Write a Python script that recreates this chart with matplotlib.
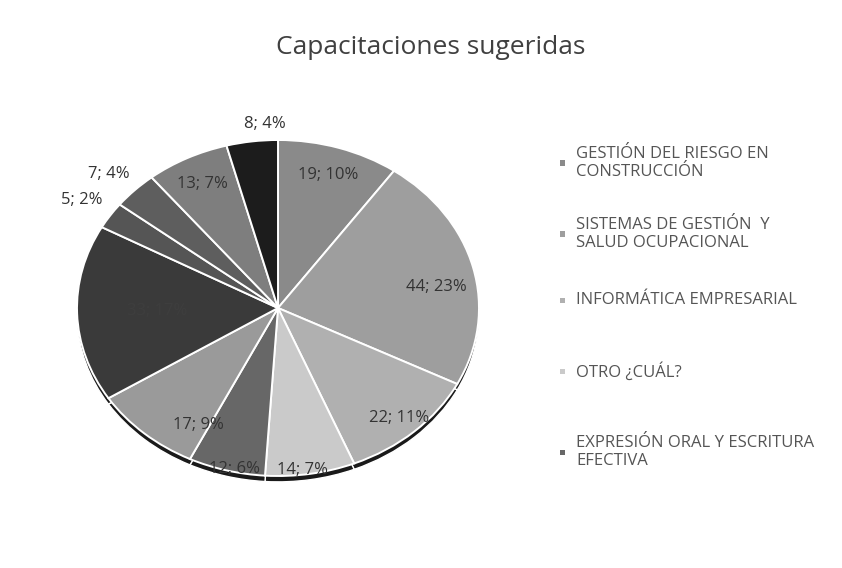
import numpy as np
import matplotlib
matplotlib.use("Agg")
import matplotlib.pyplot as plt
from matplotlib.patches import Rectangle

plt.rcParams['font.family'] = ['Open Sans', 'DejaVu Sans']

# data (clockwise from 12 o'clock)
values = [19, 44, 22, 14, 12, 17, 33, 5, 7, 13, 8]
pct_text = ['10%', '23%', '11%', '7%', '6%', '9%', '17%', '2%', '4%', '7%', '4%']
colors = ['#8a8a8a', '#9e9e9e', '#b0b0b0', '#cacaca', '#676767', '#9a9a9a',
          '#3a3a3a', '#555555', '#5e5e5e', '#7e7e7e', '#1c1c1c']
legend_names = [
    'GESTIÓN DEL RIESGO EN\nCONSTRUCCIÓN',
    'SISTEMAS DE GESTIÓN  Y\nSALUD OCUPACIONAL',
    'INFORMÁTICA EMPRESARIAL',
    'OTRO ¿CUÁL?',
    'EXPRESIÓN ORAL Y ESCRITURA\nEFECTIVA',
]

# label placement (radius as fraction, angle nudge in degrees)
label_r = [0.83, 0.80, 0.89, 0.97, 0.98, 0.80, 0.60, 1.17, 1.16, 0.83, 1.10]
label_shift = [0, 5, 0, 2, -2, -12, 0, 0, -1, 0, 4]

W, H = 842, 568
fig = plt.figure(figsize=(W / 100, H / 100), dpi=100)
fig.patch.set_facecolor('white')

# pie is an ellipse (3d tilt): centre (278, 308), radii 201 x 168 px
cx, cy, rx, ry = 278, 308, 201, 168
ax = fig.add_axes([(cx - rx) / W, (H - cy - ry) / H, 2 * rx / W, 2 * ry / H])

# side of the 3d pie
ax.pie(values, colors=['#1a1a1a'] * len(values), startangle=90, counterclock=False,
       center=(0, -0.035), wedgeprops=dict(edgecolor='white', linewidth=1.0))
ax.pie(values, colors=colors, startangle=90, counterclock=False,
       wedgeprops=dict(edgecolor='white', linewidth=1.4))
ax.set_aspect('auto')
ax.set_xlim(-1, 1)
ax.set_ylim(-1, 1)
ax.axis('off')

total = sum(values)
cum = np.cumsum([0] + values)
for i, v in enumerate(values):
    mid = (cum[i] + cum[i + 1]) / 2 / total * 360 + label_shift[i]
    a = np.radians(mid)
    x = label_r[i] * np.sin(a)
    y = label_r[i] * np.cos(a)
    col = '#333333' if i != 6 else '#3e3e3e'
    ax.text(x, y, f'{v}; {pct_text[i]}', ha='center', va='center',
            fontsize=12, color=col, clip_on=False)

fig.text(431 / W, 1 - 47 / H, 'Capacitaciones sugeridas', ha='center', va='center',
         fontsize=19, color='#404040')

# legend, only the first five entries are visible
legend_y = [163, 234, 300, 371, 452]
for i, name in enumerate(legend_names):
    yy = 1 - legend_y[i] / H
    fig.add_artist(Rectangle((560 / W, yy - 2.5 / H), 5 / W, 5 / H,
                             transform=fig.transFigure, facecolor=colors[i],
                             edgecolor='none'))
    fig.text(576 / W, yy, name, ha='left', va='center', fontsize=12,
             color='#555555', linespacing=1.2)

fig.savefig('out.png', dpi=100, facecolor='white')
